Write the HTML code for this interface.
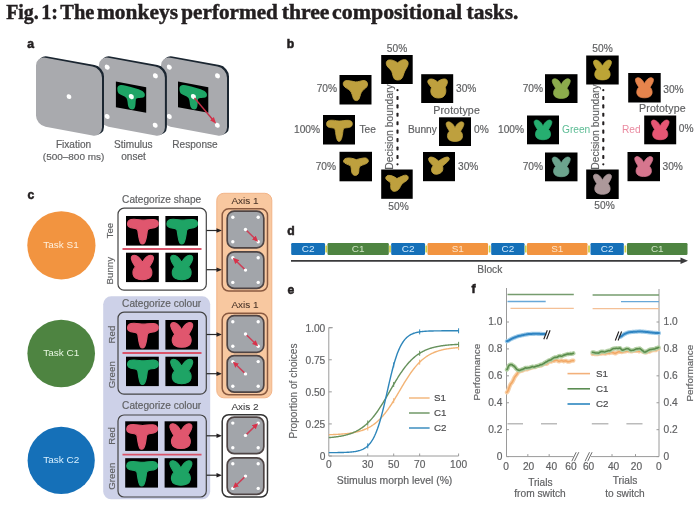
<!DOCTYPE html>
<html><head><meta charset="utf-8"><style>
html,body{margin:0;padding:0;background:#fff;width:700px;height:506px;overflow:hidden;font-family:"Liberation Sans",sans-serif}
svg{display:block;filter:blur(0.3px)}

</style></head><body>
<svg width="700" height="506" viewBox="0 0 700 506">
<defs>
<marker id="ah" viewBox="0 0 10 10" refX="8" refY="5" markerWidth="5" markerHeight="5" orient="auto"><path d="M0,1 L9,5 L0,9 Z" fill="#231f20"/></marker>
<marker id="ahr" viewBox="0 0 10 10" refX="6" refY="5" markerWidth="4" markerHeight="4" orient="auto"><path d="M0,0.5 L10,5 L0,9.5 Z" fill="#d8324a"/></marker>
</defs>
<rect width="700" height="506" fill="#fff"/>
<text x="6.2" y="19.2" font-size="20.6" font-weight="bold" font-family="Liberation Serif" fill="#231f20" stroke="#231f20" stroke-width="0.45" textLength="32.5" lengthAdjust="spacingAndGlyphs">Fig.</text>
<text x="41.2" y="19.2" font-size="20.6" font-weight="bold" font-family="Liberation Serif" fill="#231f20" stroke="#231f20" stroke-width="0.45" textLength="16.8" lengthAdjust="spacingAndGlyphs">1:</text>
<text x="60.3" y="19.2" font-size="20.6" font-weight="bold" font-family="Liberation Serif" fill="#231f20" stroke="#231f20" stroke-width="0.45" textLength="34.1" lengthAdjust="spacingAndGlyphs">The</text>
<text x="97" y="19.2" font-size="20.6" font-weight="bold" font-family="Liberation Serif" fill="#231f20" stroke="#231f20" stroke-width="0.45" textLength="81.0" lengthAdjust="spacingAndGlyphs">monkeys</text>
<text x="181.3" y="19.2" font-size="20.6" font-weight="bold" font-family="Liberation Serif" fill="#231f20" stroke="#231f20" stroke-width="0.45" textLength="96.6" lengthAdjust="spacingAndGlyphs">performed</text>
<text x="281.7" y="19.2" font-size="20.6" font-weight="bold" font-family="Liberation Serif" fill="#231f20" stroke="#231f20" stroke-width="0.45" textLength="47.8" lengthAdjust="spacingAndGlyphs">three</text>
<text x="332.1" y="19.2" font-size="20.6" font-weight="bold" font-family="Liberation Serif" fill="#231f20" stroke="#231f20" stroke-width="0.45" textLength="130.1" lengthAdjust="spacingAndGlyphs">compositional</text>
<text x="466.5" y="19.2" font-size="20.6" font-weight="bold" font-family="Liberation Serif" fill="#231f20" stroke="#231f20" stroke-width="0.45" textLength="51.9" lengthAdjust="spacingAndGlyphs">tasks.</text>
<text x="27.3" y="47.6" font-size="12.2" fill="#231f20" text-anchor="start" font-weight="bold" font-family="Liberation Sans" stroke="#231f20" stroke-width="0.55">a</text>
<text x="286.8" y="47.5" font-size="12.2" fill="#231f20" text-anchor="start" font-weight="bold" font-family="Liberation Sans" stroke="#231f20" stroke-width="0.55">b</text>
<text x="27.6" y="198.8" font-size="12.2" fill="#231f20" text-anchor="start" font-weight="bold" font-family="Liberation Sans" stroke="#231f20" stroke-width="0.55">c</text>
<text x="287.3" y="235" font-size="12.2" fill="#231f20" text-anchor="start" font-weight="bold" font-family="Liberation Sans" stroke="#231f20" stroke-width="0.55">d</text>
<text x="287.4" y="293.8" font-size="12.2" fill="#231f20" text-anchor="start" font-weight="bold" font-family="Liberation Sans" stroke="#231f20" stroke-width="0.55">e</text>
<text x="471.4" y="293" font-size="12.2" fill="#231f20" text-anchor="start" font-weight="bold" font-family="Liberation Sans" stroke="#231f20" stroke-width="0.55">f</text>
<g transform="translate(161,56) skewY(10.481)">
<rect x="2" y="-1.7" width="66" height="69.5" rx="9.5" fill="#1b2631"/>
<rect x="0" y="0" width="66" height="69" rx="9.5" fill="#a9aaae"/>
<circle cx="8.3" cy="9.6" r="2.5" fill="#fff"/>
<circle cx="56.5" cy="9.4" r="2.5" fill="#fff"/>
<circle cx="8.3" cy="59" r="2.5" fill="#fff"/>
<circle cx="56.3" cy="58.8" r="2.5" fill="#fff"/>
<g transform="translate(17,22.4)">
<rect x="0" y="0" width="30.3" height="25.6" fill="#000"/>
<path d="M1.5,7.5 C1.2,3 5,2 10,2.3 C15,2.6 22,3 26.5,4.5 C30,6 29.8,10.5 26,11.5 C23,12.3 21,12 20,14 C19.5,17 20,21 18.5,23.5 C17,25.5 13.5,25.5 12.5,23 C11.5,20 12,16.5 10.5,14.5 C8.5,12.5 4.5,13 2.8,11.5 C1.8,10.5 1.6,9 1.5,7.5 Z" fill="#1ea566"/>
</g>
<circle cx="32.4" cy="34.6" r="2.6" fill="#f4fff9"/>
<line x1="33.5" y1="35.8" x2="53.5" y2="55.8" stroke="#c43048" stroke-width="1.5" marker-end="url(#ahr)"/>
</g>
<g transform="translate(98.9,56) skewY(10.481)">
<rect x="2" y="-1.7" width="66" height="69.5" rx="9.5" fill="#1b2631"/>
<rect x="0" y="0" width="66" height="69" rx="9.5" fill="#a9aaae"/>
<circle cx="8.3" cy="9.6" r="2.5" fill="#fff"/>
<circle cx="56.5" cy="9.4" r="2.5" fill="#fff"/>
<circle cx="8.3" cy="59" r="2.5" fill="#fff"/>
<circle cx="56.3" cy="58.8" r="2.5" fill="#fff"/>
<g transform="translate(17,22.4)">
<rect x="0" y="0" width="30.3" height="25.6" fill="#000"/>
<path d="M1.5,7.5 C1.2,3 5,2 10,2.3 C15,2.6 22,3 26.5,4.5 C30,6 29.8,10.5 26,11.5 C23,12.3 21,12 20,14 C19.5,17 20,21 18.5,23.5 C17,25.5 13.5,25.5 12.5,23 C11.5,20 12,16.5 10.5,14.5 C8.5,12.5 4.5,13 2.8,11.5 C1.8,10.5 1.6,9 1.5,7.5 Z" fill="#1ea566"/>
</g>
<circle cx="32.4" cy="34.6" r="2.6" fill="#f4fff9"/>
</g>
<g transform="translate(36,56) skewY(10.481)">
<rect x="2" y="-1.7" width="66" height="69.5" rx="9.5" fill="#1b2631"/>
<rect x="0" y="0" width="66" height="69" rx="9.5" fill="#a9aaae"/>
<circle cx="33" cy="34.5" r="2.4" fill="#fff"/>
</g>
<text x="73.6" y="148.3" font-size="10.09" fill="#606163" text-anchor="middle" font-weight="normal" font-family="Liberation Sans" stroke="#606163" stroke-width="0.18">Fixation</text>
<text x="73.6" y="159.6" font-size="9.98" fill="#606163" text-anchor="middle" font-weight="normal" font-family="Liberation Sans" stroke="#606163" stroke-width="0.18">(500–800 ms)</text>
<text x="133.3" y="148.3" font-size="10.09" fill="#606163" text-anchor="middle" font-weight="normal" font-family="Liberation Sans" stroke="#606163" stroke-width="0.18">Stimulus</text>
<text x="133.5" y="159.6" font-size="10.09" fill="#606163" text-anchor="middle" font-weight="normal" font-family="Liberation Sans" stroke="#606163" stroke-width="0.18">onset</text>
<text x="195" y="148.3" font-size="10.09" fill="#606163" text-anchor="middle" font-weight="normal" font-family="Liberation Sans" stroke="#606163" stroke-width="0.18">Response</text>
<rect x="381.2" y="55" width="31.5" height="29" fill="#000"/>
<path d="M16.6,8.1 C14.5,6.3 11,4.6 7.8,5.2 C5,5.8 4.6,8.6 5.8,11 C7.2,13.5 9.8,14.8 10.8,17.2 C11.8,19.8 11.8,23 13.5,24.8 C15,26.2 18.5,26.3 20.3,24.8 C22.2,23.2 22.6,20 23.6,17.5 C24.6,15 26.8,12.5 27.3,9.8 C27.8,6.8 26.2,4.8 23.5,4.8 C20.8,4.8 18.6,6.5 16.6,8.1 Z" transform="translate(381.2,55) scale(0.9844,0.9667)" fill="#bea03e" stroke="#bea03e" stroke-width="0.9" stroke-linejoin="round"/>
<rect x="339.5" y="75" width="32" height="29.5" fill="#000"/>
<path d="M16,7 C13,6.6 9,5.2 6,5.8 C3.8,6.3 3.2,8.8 4.2,10.8 C5.5,13 8.5,14 10.5,15.8 C12.5,17.8 12.8,21.5 14,24.2 C15,26.5 18.5,26.8 19.6,24.2 C20.8,21.5 21,18 23,16 C24.8,14.2 27.2,13 27.9,10.8 C28.6,8.5 27.2,5.6 24.6,5.6 C21.6,5.6 19,7.2 16,7 Z" transform="translate(339.5,75) scale(1.0000,0.9833)" fill="#bea03e" stroke="#bea03e" stroke-width="0.9" stroke-linejoin="round"/>
<rect x="323" y="115" width="32" height="29.5" fill="#000"/>
<path d="M1.5,8 C1.5,4.2 4,3.2 8,3.3 C12,3.4 14,4.2 17,4.2 C20,4.2 23,3.3 27,3.5 C30.5,3.8 31.8,5.8 31.5,8.3 C31.2,11 28.5,12 25,12.3 C22.5,12.5 21.2,12.8 20.8,15 C20.3,18.5 20,24 18,27.3 C17,28.7 15,28.7 14.2,27.3 C12.5,24 12.2,18.5 11.6,15 C11.2,12.8 9.8,12.5 7.5,12.3 C4,12 1.5,11 1.5,8 Z" transform="translate(323,115) scale(1.0000,0.9833) translate(16,15.6) scale(0.86) translate(-16,-15.3)" fill="#bea03e" stroke="#bea03e" stroke-width="0.9" stroke-linejoin="round"/>
<rect x="339.5" y="151.8" width="32.5" height="29.5" fill="#000"/>
<path d="M16.5,8 C14,7 10.5,5.8 7,6.5 C4.5,7 3.5,9 4.2,10.5 C5,12 8,12.8 10.5,14 C11.8,15 11.5,18 12,20.5 C12.5,23 14,24 15.5,24 C17.5,24 18.8,22.5 19,20 C19.2,17.5 19,15.5 20.5,14.5 C23,13 27,12.5 28.2,10.5 C29,8.5 27.5,6 24.5,6.2 C21.5,6.5 19,7.2 16.5,8 Z" transform="translate(339.5,151.8) scale(1.0156,0.9833)" fill="#bea03e" stroke="#bea03e" stroke-width="0.9" stroke-linejoin="round"/>
<rect x="381.2" y="169.5" width="31.5" height="29.3" fill="#000"/>
<path d="M16,9.3 C13.5,7.5 10.5,5.8 7.5,6 C5,6.3 4,8.5 5,10 C6,11.5 8,12 9.5,13.5 C10,15.5 9.2,18 10,20 C10.8,22 12.5,22.5 14,22.3 C16.5,22 18.5,20 19.5,17.5 C20.5,15 22.5,13.5 25,12 C27,10.8 28,9 27.2,7.2 C26.5,5.5 24,5.5 22,6.5 C19.5,7.5 17.5,8.5 16,9.3 Z" transform="translate(381.2,169.5) scale(0.9844,0.9767)" fill="#bea03e" stroke="#bea03e" stroke-width="0.9" stroke-linejoin="round"/>
<rect x="421.2" y="74.2" width="32" height="28.8" fill="#000"/>
<path d="M16.3,8 C14.5,6.5 12.5,5 10,5 C7.5,5 6,6.5 6.8,9 C7.5,11 9.5,12.5 10.3,14 C9.5,16 9.3,18.5 10.3,21 C11.5,23.5 14,24.8 17.3,24.8 C21,24.8 23.5,23 24.3,20 C25,17.5 24.5,15 24,13.5 C25,12 26.3,10 26.2,7.8 C26,5.5 24.5,4.8 22.5,5 C20,5.3 18,6.5 16.3,8 Z" transform="translate(421.2,74.2) scale(1.0000,0.9600)" fill="#bea03e" stroke="#bea03e" stroke-width="0.9" stroke-linejoin="round"/>
<rect x="439" y="117.3" width="32" height="28.7" fill="#000"/>
<path d="M16,10 C14.8,7.5 13,4.2 10,3 C7,1.8 4.8,3.2 5.2,6 C5.6,9 7.8,12 9.2,14.5 C7.2,16.5 6.4,19.5 6.9,22.2 C7.7,26 11.5,27.6 16,27.6 C20.5,27.6 24.3,26 25.1,22.2 C25.6,19.5 24.8,16.5 22.8,14.5 C24.2,12 26.4,9 26.8,6 C27.2,3.2 25,1.8 22,3 C19,4.2 17.2,7.5 16,10 Z" transform="translate(439,117.3) scale(1.0000,0.9567) translate(16,14.6) scale(0.82) translate(-16,-14.6)" fill="#bea03e" stroke="#bea03e" stroke-width="0.9" stroke-linejoin="round"/>
<rect x="423" y="152" width="32" height="29.2" fill="#000"/>
<path d="M15.6,9.3 C13.5,7.5 11,5.2 8,5.2 C5.8,5.2 5,7 6,9 C7,11 9,13 10.2,14.2 C8.5,16 8,18.5 9,20.5 C10,22.5 12,23 14,22.8 C17,22.5 19.5,20.5 19.8,18 C20,16.5 19.8,15.5 19.5,14.5 C21.5,12.5 24.5,10.5 25.8,8.5 C27,6.5 25.8,5 24,5.2 C21,5.5 18,7.5 15.6,9.3 Z" transform="translate(423,152) scale(1.0000,0.9733)" fill="#bea03e" stroke="#bea03e" stroke-width="0.9" stroke-linejoin="round"/>
<text x="397" y="52.0" font-size="10.19" fill="#606163" text-anchor="middle" font-weight="normal" font-family="Liberation Sans" stroke="#606163" stroke-width="0.18">50%</text>
<text x="337" y="91.5" font-size="10.19" fill="#606163" text-anchor="end" font-weight="normal" font-family="Liberation Sans" stroke="#606163" stroke-width="0.18">70%</text>
<text x="320" y="132.5" font-size="10.19" fill="#606163" text-anchor="end" font-weight="normal" font-family="Liberation Sans" stroke="#606163" stroke-width="0.18">100%</text>
<text x="359.5" y="132.5" font-size="10.19" fill="#606163" text-anchor="start" font-weight="normal" font-family="Liberation Sans" stroke="#606163" stroke-width="0.18">Tee</text>
<text x="336" y="169.5" font-size="10.19" fill="#606163" text-anchor="end" font-weight="normal" font-family="Liberation Sans" stroke="#606163" stroke-width="0.18">70%</text>
<text x="398.5" y="209.5" font-size="10.19" fill="#606163" text-anchor="middle" font-weight="normal" font-family="Liberation Sans" stroke="#606163" stroke-width="0.18">50%</text>
<text x="456" y="92.0" font-size="10.19" fill="#606163" text-anchor="start" font-weight="normal" font-family="Liberation Sans" stroke="#606163" stroke-width="0.18">30%</text>
<text x="433.2" y="114.0" font-size="10.61" fill="#606163" text-anchor="start" font-weight="normal" font-family="Liberation Sans" letter-spacing="0.15" stroke="#606163" stroke-width="0.18">Prototype</text>
<text x="408" y="133.0" font-size="10.19" fill="#606163" text-anchor="start" font-weight="normal" font-family="Liberation Sans" stroke="#606163" stroke-width="0.18">Bunny</text>
<text x="474" y="133.0" font-size="10.19" fill="#606163" text-anchor="start" font-weight="normal" font-family="Liberation Sans" stroke="#606163" stroke-width="0.18">0%</text>
<text x="458" y="169.5" font-size="10.19" fill="#606163" text-anchor="start" font-weight="normal" font-family="Liberation Sans" stroke="#606163" stroke-width="0.18">30%</text>
<circle cx="397.5" cy="90.2" r="1.1" fill="#231f20"/>
<circle cx="397.5" cy="164.3" r="1.1" fill="#231f20"/>
<rect x="396.45" y="95.90" width="2.1" height="4.1" rx="0.8" fill="#231f20"/>
<rect x="396.45" y="104.33" width="2.1" height="4.1" rx="0.8" fill="#231f20"/>
<rect x="396.45" y="112.76" width="2.1" height="4.1" rx="0.8" fill="#231f20"/>
<rect x="396.45" y="121.19" width="2.1" height="4.1" rx="0.8" fill="#231f20"/>
<rect x="396.45" y="129.62" width="2.1" height="4.1" rx="0.8" fill="#231f20"/>
<rect x="396.45" y="138.05" width="2.1" height="4.1" rx="0.8" fill="#231f20"/>
<rect x="396.45" y="146.48" width="2.1" height="4.1" rx="0.8" fill="#231f20"/>
<rect x="396.45" y="154.91" width="2.1" height="4.1" rx="0.8" fill="#231f20"/>
<text transform="translate(389.2,127) rotate(-90)" x="0" y="3.71" font-size="10.3" fill="#606163" stroke="#606163" stroke-width="0.15" text-anchor="middle" font-family="Liberation Sans">Decision boundary</text>
<circle cx="603.3" cy="90.2" r="1.1" fill="#231f20"/>
<circle cx="603.3" cy="164.3" r="1.1" fill="#231f20"/>
<rect x="602.25" y="95.90" width="2.1" height="4.1" rx="0.8" fill="#231f20"/>
<rect x="602.25" y="104.33" width="2.1" height="4.1" rx="0.8" fill="#231f20"/>
<rect x="602.25" y="112.76" width="2.1" height="4.1" rx="0.8" fill="#231f20"/>
<rect x="602.25" y="121.19" width="2.1" height="4.1" rx="0.8" fill="#231f20"/>
<rect x="602.25" y="129.62" width="2.1" height="4.1" rx="0.8" fill="#231f20"/>
<rect x="602.25" y="138.05" width="2.1" height="4.1" rx="0.8" fill="#231f20"/>
<rect x="602.25" y="146.48" width="2.1" height="4.1" rx="0.8" fill="#231f20"/>
<rect x="602.25" y="154.91" width="2.1" height="4.1" rx="0.8" fill="#231f20"/>
<text transform="translate(595.7,127) rotate(-90)" x="0" y="3.71" font-size="10.3" fill="#606163" stroke="#606163" stroke-width="0.15" text-anchor="middle" font-family="Liberation Sans">Decision boundary</text>
<rect x="586.2" y="55.5" width="32.5" height="29" fill="#000"/>
<path d="M16,10 C14.8,7.5 13,4.2 10,3 C7,1.8 4.8,3.2 5.2,6 C5.6,9 7.8,12 9.2,14.5 C7.2,16.5 6.4,19.5 6.9,22.2 C7.7,26 11.5,27.6 16,27.6 C20.5,27.6 24.3,26 25.1,22.2 C25.6,19.5 24.8,16.5 22.8,14.5 C24.2,12 26.4,9 26.8,6 C27.2,3.2 25,1.8 22,3 C19,4.2 17.2,7.5 16,10 Z" transform="translate(586.2,55.5) scale(1.0156,0.9667) translate(16,14.6) scale(0.82) translate(-16,-14.6)" fill="#bca436" stroke="#bca436" stroke-width="0.9" stroke-linejoin="round"/>
<rect x="545" y="74.2" width="32.5" height="28.8" fill="#000"/>
<path d="M16,10 C14.8,7.5 13,4.2 10,3 C7,1.8 4.8,3.2 5.2,6 C5.6,9 7.8,12 9.2,14.5 C7.2,16.5 6.4,19.5 6.9,22.2 C7.7,26 11.5,27.6 16,27.6 C20.5,27.6 24.3,26 25.1,22.2 C25.6,19.5 24.8,16.5 22.8,14.5 C24.2,12 26.4,9 26.8,6 C27.2,3.2 25,1.8 22,3 C19,4.2 17.2,7.5 16,10 Z" transform="translate(545,74.2) scale(1.0156,0.9600) translate(16,14.6) scale(0.82) translate(-16,-14.6)" fill="#8cac4c" stroke="#8cac4c" stroke-width="0.9" stroke-linejoin="round"/>
<rect x="527" y="115.5" width="32" height="28.8" fill="#000"/>
<path d="M16,10 C14.8,7.5 13,4.2 10,3 C7,1.8 4.8,3.2 5.2,6 C5.6,9 7.8,12 9.2,14.5 C7.2,16.5 6.4,19.5 6.9,22.2 C7.7,26 11.5,27.6 16,27.6 C20.5,27.6 24.3,26 25.1,22.2 C25.6,19.5 24.8,16.5 22.8,14.5 C24.2,12 26.4,9 26.8,6 C27.2,3.2 25,1.8 22,3 C19,4.2 17.2,7.5 16,10 Z" transform="translate(527,115.5) scale(1.0000,0.9600) translate(16,14.6) scale(0.82) translate(-16,-14.6)" fill="#26ae70" stroke="#26ae70" stroke-width="0.9" stroke-linejoin="round"/>
<rect x="545" y="152.5" width="32.5" height="28.8" fill="#000"/>
<path d="M16,10 C14.8,7.5 13,4.2 10,3 C7,1.8 4.8,3.2 5.2,6 C5.6,9 7.8,12 9.2,14.5 C7.2,16.5 6.4,19.5 6.9,22.2 C7.7,26 11.5,27.6 16,27.6 C20.5,27.6 24.3,26 25.1,22.2 C25.6,19.5 24.8,16.5 22.8,14.5 C24.2,12 26.4,9 26.8,6 C27.2,3.2 25,1.8 22,3 C19,4.2 17.2,7.5 16,10 Z" transform="translate(545,152.5) scale(1.0156,0.9600) translate(16,14.6) scale(0.82) translate(-16,-14.6)" fill="#6ca48e" stroke="#6ca48e" stroke-width="0.9" stroke-linejoin="round"/>
<rect x="586.2" y="169.5" width="32.5" height="29.5" fill="#000"/>
<path d="M16,10 C14.8,7.5 13,4.2 10,3 C7,1.8 4.8,3.2 5.2,6 C5.6,9 7.8,12 9.2,14.5 C7.2,16.5 6.4,19.5 6.9,22.2 C7.7,26 11.5,27.6 16,27.6 C20.5,27.6 24.3,26 25.1,22.2 C25.6,19.5 24.8,16.5 22.8,14.5 C24.2,12 26.4,9 26.8,6 C27.2,3.2 25,1.8 22,3 C19,4.2 17.2,7.5 16,10 Z" transform="translate(586.2,169.5) scale(1.0156,0.9833) translate(16,14.6) scale(0.82) translate(-16,-14.6)" fill="#ac989a" stroke="#ac989a" stroke-width="0.9" stroke-linejoin="round"/>
<rect x="628.2" y="73" width="32.5" height="29.5" fill="#000"/>
<path d="M16,10 C14.8,7.5 13,4.2 10,3 C7,1.8 4.8,3.2 5.2,6 C5.6,9 7.8,12 9.2,14.5 C7.2,16.5 6.4,19.5 6.9,22.2 C7.7,26 11.5,27.6 16,27.6 C20.5,27.6 24.3,26 25.1,22.2 C25.6,19.5 24.8,16.5 22.8,14.5 C24.2,12 26.4,9 26.8,6 C27.2,3.2 25,1.8 22,3 C19,4.2 17.2,7.5 16,10 Z" transform="translate(628.2,73) scale(1.0156,0.9833) translate(16,14.6) scale(0.82) translate(-16,-14.6)" fill="#e6844c" stroke="#e6844c" stroke-width="0.9" stroke-linejoin="round"/>
<rect x="644.2" y="115.5" width="32" height="28.8" fill="#000"/>
<path d="M16,10 C14.8,7.5 13,4.2 10,3 C7,1.8 4.8,3.2 5.2,6 C5.6,9 7.8,12 9.2,14.5 C7.2,16.5 6.4,19.5 6.9,22.2 C7.7,26 11.5,27.6 16,27.6 C20.5,27.6 24.3,26 25.1,22.2 C25.6,19.5 24.8,16.5 22.8,14.5 C24.2,12 26.4,9 26.8,6 C27.2,3.2 25,1.8 22,3 C19,4.2 17.2,7.5 16,10 Z" transform="translate(644.2,115.5) scale(1.0000,0.9600) translate(16,14.6) scale(0.82) translate(-16,-14.6)" fill="#e65674" stroke="#e65674" stroke-width="0.9" stroke-linejoin="round"/>
<rect x="627.5" y="152" width="32.5" height="29.2" fill="#000"/>
<path d="M16,10 C14.8,7.5 13,4.2 10,3 C7,1.8 4.8,3.2 5.2,6 C5.6,9 7.8,12 9.2,14.5 C7.2,16.5 6.4,19.5 6.9,22.2 C7.7,26 11.5,27.6 16,27.6 C20.5,27.6 24.3,26 25.1,22.2 C25.6,19.5 24.8,16.5 22.8,14.5 C24.2,12 26.4,9 26.8,6 C27.2,3.2 25,1.8 22,3 C19,4.2 17.2,7.5 16,10 Z" transform="translate(627.5,152) scale(1.0156,0.9733) translate(16,14.6) scale(0.82) translate(-16,-14.6)" fill="#d6768e" stroke="#d6768e" stroke-width="0.9" stroke-linejoin="round"/>
<text x="602.5" y="51.5" font-size="10.19" fill="#606163" text-anchor="middle" font-weight="normal" font-family="Liberation Sans" stroke="#606163" stroke-width="0.18">50%</text>
<text x="543" y="92.0" font-size="10.19" fill="#606163" text-anchor="end" font-weight="normal" font-family="Liberation Sans" stroke="#606163" stroke-width="0.18">70%</text>
<text x="524" y="132.5" font-size="10.19" fill="#606163" text-anchor="end" font-weight="normal" font-family="Liberation Sans" stroke="#606163" stroke-width="0.18">100%</text>
<text x="562" y="132.5" font-size="10.19" fill="#5cbc94" text-anchor="start" font-weight="normal" font-family="Liberation Sans"  >Green</text>
<text x="622" y="132.5" font-size="10.19" fill="#ea8aa0" text-anchor="start" font-weight="normal" font-family="Liberation Sans"  >Red</text>
<text x="639" y="112.0" font-size="10.61" fill="#606163" text-anchor="start" font-weight="normal" font-family="Liberation Sans" letter-spacing="0.15" stroke="#606163" stroke-width="0.18">Prototype</text>
<text x="678.8" y="132.0" font-size="10.19" fill="#606163" text-anchor="start" font-weight="normal" font-family="Liberation Sans" stroke="#606163" stroke-width="0.18">0%</text>
<text x="663.3" y="93.2" font-size="10.19" fill="#606163" text-anchor="start" font-weight="normal" font-family="Liberation Sans" stroke="#606163" stroke-width="0.18">30%</text>
<text x="662.5" y="169.5" font-size="10.19" fill="#606163" text-anchor="start" font-weight="normal" font-family="Liberation Sans" stroke="#606163" stroke-width="0.18">30%</text>
<text x="604.5" y="208.5" font-size="10.19" fill="#606163" text-anchor="middle" font-weight="normal" font-family="Liberation Sans" stroke="#606163" stroke-width="0.18">50%</text>
<text x="543" y="169.5" font-size="10.19" fill="#606163" text-anchor="end" font-weight="normal" font-family="Liberation Sans" stroke="#606163" stroke-width="0.18">70%</text>
<circle cx="61.4" cy="245.3" r="34.1" fill="#f29440"/>
<circle cx="61.2" cy="353.5" r="33.8" fill="#4e8441"/>
<circle cx="61.2" cy="460.4" r="33.6" fill="#1570b8"/>
<text x="61" y="248.3" font-size="9.98" fill="#fff0dc" text-anchor="middle" font-weight="normal" font-family="Liberation Sans"  >Task S1</text>
<text x="61.2" y="356.0" font-size="9.98" fill="#e6f6e0" text-anchor="middle" font-weight="normal" font-family="Liberation Sans"  >Task C1</text>
<text x="61.2" y="463.3" font-size="9.98" fill="#d8f0ff" text-anchor="middle" font-weight="normal" font-family="Liberation Sans"  >Task C2</text>
<rect x="103.2" y="296.3" width="107" height="203" rx="8" fill="#cdd1e8"/>
<rect x="216.8" y="193.3" width="55" height="204.5" rx="7" fill="#f8c8a0" stroke="#f3b488" stroke-width="1"/>
<text x="122.1" y="202.5" font-size="10.11" fill="#606163" text-anchor="start" font-weight="normal" font-family="Liberation Sans" stroke="#606163" stroke-width="0.18">Categorize shape</text>
<rect x="118" y="208.2" width="88.3" height="82" rx="6" fill="#fff" stroke="#444" stroke-width="1.2"/>
<rect x="126" y="216.0" width="32.8" height="29.6" fill="#000"/>
<path d="M1.5,8 C1.5,4.2 4,3.2 8,3.3 C12,3.4 14,4.2 17,4.2 C20,4.2 23,3.3 27,3.5 C30.5,3.8 31.8,5.8 31.5,8.3 C31.2,11 28.5,12 25,12.3 C22.5,12.5 21.2,12.8 20.8,15 C20.3,18.5 20,24 18,27.3 C17,28.7 15,28.7 14.2,27.3 C12.5,24 12.2,18.5 11.6,15 C11.2,12.8 9.8,12.5 7.5,12.3 C4,12 1.5,11 1.5,8 Z" transform="translate(126,216.0) scale(1.0250,0.9867)" fill="#e0566e" stroke="#e0566e" stroke-width="1.1" stroke-linejoin="round"/>
<rect x="165.4" y="216.0" width="32.6" height="29.6" fill="#000"/>
<path d="M1.5,8 C1.5,4.2 4,3.2 8,3.3 C12,3.4 14,4.2 17,4.2 C20,4.2 23,3.3 27,3.5 C30.5,3.8 31.8,5.8 31.5,8.3 C31.2,11 28.5,12 25,12.3 C22.5,12.5 21.2,12.8 20.8,15 C20.3,18.5 20,24 18,27.3 C17,28.7 15,28.7 14.2,27.3 C12.5,24 12.2,18.5 11.6,15 C11.2,12.8 9.8,12.5 7.5,12.3 C4,12 1.5,11 1.5,8 Z" transform="translate(165.4,216.0) scale(1.0188,0.9867)" fill="#1ea465" stroke="#1ea465" stroke-width="1.1" stroke-linejoin="round"/>
<rect x="126" y="252.7" width="32.8" height="29.4" fill="#000"/>
<path d="M16,10 C14.8,7.5 13,4.2 10,3 C7,1.8 4.8,3.2 5.2,6 C5.6,9 7.8,12 9.2,14.5 C7.2,16.5 6.4,19.5 6.9,22.2 C7.7,26 11.5,27.6 16,27.6 C20.5,27.6 24.3,26 25.1,22.2 C25.6,19.5 24.8,16.5 22.8,14.5 C24.2,12 26.4,9 26.8,6 C27.2,3.2 25,1.8 22,3 C19,4.2 17.2,7.5 16,10 Z" transform="translate(126,252.7) scale(1.0250,0.9800)" fill="#e0566e" stroke="#e0566e" stroke-width="1.1" stroke-linejoin="round"/>
<rect x="165.4" y="252.7" width="32.6" height="29.4" fill="#000"/>
<path d="M16,10 C14.8,7.5 13,4.2 10,3 C7,1.8 4.8,3.2 5.2,6 C5.6,9 7.8,12 9.2,14.5 C7.2,16.5 6.4,19.5 6.9,22.2 C7.7,26 11.5,27.6 16,27.6 C20.5,27.6 24.3,26 25.1,22.2 C25.6,19.5 24.8,16.5 22.8,14.5 C24.2,12 26.4,9 26.8,6 C27.2,3.2 25,1.8 22,3 C19,4.2 17.2,7.5 16,10 Z" transform="translate(165.4,252.7) scale(1.0188,0.9800)" fill="#1ea465" stroke="#1ea465" stroke-width="1.1" stroke-linejoin="round"/>
<line x1="122.5" y1="249.0" x2="201.5" y2="249.0" stroke="#d9546a" stroke-width="1.8"/>
<text transform="translate(109.9,230.6) rotate(-90)" x="0" y="3.50" font-size="9.72" fill="#606163" stroke="#606163" stroke-width="0.15" text-anchor="middle" font-family="Liberation Sans">Tee</text>
<text transform="translate(109.9,270.7) rotate(-90)" x="0" y="3.50" font-size="9.72" fill="#606163" stroke="#606163" stroke-width="0.15" text-anchor="middle" font-family="Liberation Sans">Bunny</text>
<line x1="206.5" y1="230.5" x2="218" y2="230.5" stroke="#2a2a2a" stroke-width="1.2"/>
<path d="M216.5,228.2 L222,230.5 L216.5,232.8 Z" fill="#231f20"/>
<line x1="206.5" y1="269.7" x2="218" y2="269.7" stroke="#2a2a2a" stroke-width="1.2"/>
<path d="M216.5,267.4 L222,269.7 L216.5,272.0 Z" fill="#231f20"/>
<text x="122.1" y="306.5" font-size="10.11" fill="#606163" text-anchor="start" font-weight="normal" font-family="Liberation Sans" stroke="#606163" stroke-width="0.18">Categorize colour</text>
<rect x="118" y="312.2" width="88.3" height="82" rx="6" fill="none" stroke="#444" stroke-width="1.2"/>
<rect x="126" y="320.0" width="32.8" height="29.6" fill="#000"/>
<path d="M1.5,8 C1.5,4.2 4,3.2 8,3.3 C12,3.4 14,4.2 17,4.2 C20,4.2 23,3.3 27,3.5 C30.5,3.8 31.8,5.8 31.5,8.3 C31.2,11 28.5,12 25,12.3 C22.5,12.5 21.2,12.8 20.8,15 C20.3,18.5 20,24 18,27.3 C17,28.7 15,28.7 14.2,27.3 C12.5,24 12.2,18.5 11.6,15 C11.2,12.8 9.8,12.5 7.5,12.3 C4,12 1.5,11 1.5,8 Z" transform="translate(126,320.0) scale(1.0250,0.9867)" fill="#e0566e" stroke="#e0566e" stroke-width="1.1" stroke-linejoin="round"/>
<rect x="165.4" y="320.0" width="32.6" height="29.6" fill="#000"/>
<path d="M16,10 C14.8,7.5 13,4.2 10,3 C7,1.8 4.8,3.2 5.2,6 C5.6,9 7.8,12 9.2,14.5 C7.2,16.5 6.4,19.5 6.9,22.2 C7.7,26 11.5,27.6 16,27.6 C20.5,27.6 24.3,26 25.1,22.2 C25.6,19.5 24.8,16.5 22.8,14.5 C24.2,12 26.4,9 26.8,6 C27.2,3.2 25,1.8 22,3 C19,4.2 17.2,7.5 16,10 Z" transform="translate(165.4,320.0) scale(1.0188,0.9867)" fill="#e0566e" stroke="#e0566e" stroke-width="1.1" stroke-linejoin="round"/>
<rect x="126" y="356.7" width="32.8" height="29.4" fill="#000"/>
<path d="M1.5,8 C1.5,4.2 4,3.2 8,3.3 C12,3.4 14,4.2 17,4.2 C20,4.2 23,3.3 27,3.5 C30.5,3.8 31.8,5.8 31.5,8.3 C31.2,11 28.5,12 25,12.3 C22.5,12.5 21.2,12.8 20.8,15 C20.3,18.5 20,24 18,27.3 C17,28.7 15,28.7 14.2,27.3 C12.5,24 12.2,18.5 11.6,15 C11.2,12.8 9.8,12.5 7.5,12.3 C4,12 1.5,11 1.5,8 Z" transform="translate(126,356.7) scale(1.0250,0.9800)" fill="#1ea465" stroke="#1ea465" stroke-width="1.1" stroke-linejoin="round"/>
<rect x="165.4" y="356.7" width="32.6" height="29.4" fill="#000"/>
<path d="M16,10 C14.8,7.5 13,4.2 10,3 C7,1.8 4.8,3.2 5.2,6 C5.6,9 7.8,12 9.2,14.5 C7.2,16.5 6.4,19.5 6.9,22.2 C7.7,26 11.5,27.6 16,27.6 C20.5,27.6 24.3,26 25.1,22.2 C25.6,19.5 24.8,16.5 22.8,14.5 C24.2,12 26.4,9 26.8,6 C27.2,3.2 25,1.8 22,3 C19,4.2 17.2,7.5 16,10 Z" transform="translate(165.4,356.7) scale(1.0188,0.9800)" fill="#1ea465" stroke="#1ea465" stroke-width="1.1" stroke-linejoin="round"/>
<line x1="122.5" y1="353.0" x2="201.5" y2="353.0" stroke="#d9546a" stroke-width="1.8"/>
<text transform="translate(111.4,334.6) rotate(-90)" x="0" y="3.50" font-size="9.72" fill="#606163" stroke="#606163" stroke-width="0.15" text-anchor="middle" font-family="Liberation Sans">Red</text>
<text transform="translate(111.4,374.7) rotate(-90)" x="0" y="3.50" font-size="9.72" fill="#606163" stroke="#606163" stroke-width="0.15" text-anchor="middle" font-family="Liberation Sans">Green</text>
<line x1="206.5" y1="334.5" x2="218" y2="334.5" stroke="#2a2a2a" stroke-width="1.2"/>
<path d="M216.5,332.2 L222,334.5 L216.5,336.8 Z" fill="#231f20"/>
<line x1="206.5" y1="373.7" x2="218" y2="373.7" stroke="#2a2a2a" stroke-width="1.2"/>
<path d="M216.5,371.4 L222,373.7 L216.5,376.0 Z" fill="#231f20"/>
<text x="122.1" y="409.3" font-size="10.11" fill="#606163" text-anchor="start" font-weight="normal" font-family="Liberation Sans" stroke="#606163" stroke-width="0.18">Categorize colour</text>
<rect x="118" y="415" width="88.3" height="82" rx="6" fill="none" stroke="#444" stroke-width="1.2"/>
<rect x="125.2" y="421.3" width="32.8" height="29.6" fill="#000"/>
<path d="M1.5,8 C1.5,4.2 4,3.2 8,3.3 C12,3.4 14,4.2 17,4.2 C20,4.2 23,3.3 27,3.5 C30.5,3.8 31.8,5.8 31.5,8.3 C31.2,11 28.5,12 25,12.3 C22.5,12.5 21.2,12.8 20.8,15 C20.3,18.5 20,24 18,27.3 C17,28.7 15,28.7 14.2,27.3 C12.5,24 12.2,18.5 11.6,15 C11.2,12.8 9.8,12.5 7.5,12.3 C4,12 1.5,11 1.5,8 Z" transform="translate(125.2,421.3) scale(1.0250,0.9867)" fill="#e0566e" stroke="#e0566e" stroke-width="1.1" stroke-linejoin="round"/>
<rect x="164.6" y="421.3" width="32.6" height="29.6" fill="#000"/>
<path d="M16,10 C14.8,7.5 13,4.2 10,3 C7,1.8 4.8,3.2 5.2,6 C5.6,9 7.8,12 9.2,14.5 C7.2,16.5 6.4,19.5 6.9,22.2 C7.7,26 11.5,27.6 16,27.6 C20.5,27.6 24.3,26 25.1,22.2 C25.6,19.5 24.8,16.5 22.8,14.5 C24.2,12 26.4,9 26.8,6 C27.2,3.2 25,1.8 22,3 C19,4.2 17.2,7.5 16,10 Z" transform="translate(164.6,421.3) scale(1.0188,0.9867)" fill="#e0566e" stroke="#e0566e" stroke-width="1.1" stroke-linejoin="round"/>
<rect x="125.2" y="458.2" width="32.8" height="29.4" fill="#000"/>
<path d="M1.5,8 C1.5,4.2 4,3.2 8,3.3 C12,3.4 14,4.2 17,4.2 C20,4.2 23,3.3 27,3.5 C30.5,3.8 31.8,5.8 31.5,8.3 C31.2,11 28.5,12 25,12.3 C22.5,12.5 21.2,12.8 20.8,15 C20.3,18.5 20,24 18,27.3 C17,28.7 15,28.7 14.2,27.3 C12.5,24 12.2,18.5 11.6,15 C11.2,12.8 9.8,12.5 7.5,12.3 C4,12 1.5,11 1.5,8 Z" transform="translate(125.2,458.2) scale(1.0250,0.9800)" fill="#1ea465" stroke="#1ea465" stroke-width="1.1" stroke-linejoin="round"/>
<rect x="164.6" y="458.2" width="32.6" height="29.4" fill="#000"/>
<path d="M16,10 C14.8,7.5 13,4.2 10,3 C7,1.8 4.8,3.2 5.2,6 C5.6,9 7.8,12 9.2,14.5 C7.2,16.5 6.4,19.5 6.9,22.2 C7.7,26 11.5,27.6 16,27.6 C20.5,27.6 24.3,26 25.1,22.2 C25.6,19.5 24.8,16.5 22.8,14.5 C24.2,12 26.4,9 26.8,6 C27.2,3.2 25,1.8 22,3 C19,4.2 17.2,7.5 16,10 Z" transform="translate(164.6,458.2) scale(1.0188,0.9800)" fill="#1ea465" stroke="#1ea465" stroke-width="1.1" stroke-linejoin="round"/>
<line x1="122.5" y1="454.6" x2="201.5" y2="454.6" stroke="#d9546a" stroke-width="1.8"/>
<text transform="translate(111.4,435.90000000000003) rotate(-90)" x="0" y="3.50" font-size="9.72" fill="#606163" stroke="#606163" stroke-width="0.15" text-anchor="middle" font-family="Liberation Sans">Red</text>
<text transform="translate(111.4,476.2) rotate(-90)" x="0" y="3.50" font-size="9.72" fill="#606163" stroke="#606163" stroke-width="0.15" text-anchor="middle" font-family="Liberation Sans">Green</text>
<line x1="206.5" y1="435.8" x2="218" y2="435.8" stroke="#2a2a2a" stroke-width="1.2"/>
<path d="M216.5,433.5 L222,435.8 L216.5,438.1 Z" fill="#231f20"/>
<line x1="206.5" y1="475.2" x2="218" y2="475.2" stroke="#2a2a2a" stroke-width="1.2"/>
<path d="M216.5,472.9 L222,475.2 L216.5,477.5 Z" fill="#231f20"/>
<text x="245" y="204.1" font-size="9.98" fill="#4a3428" text-anchor="middle" font-weight="normal" font-family="Liberation Sans" stroke="#4a3428" stroke-width="0.08">Axis 1</text>
<rect x="222.2" y="208.8" width="45.3" height="82.2" rx="6.5" fill="none" stroke="#8a5a40" stroke-width="1.5"/>
<rect x="227.2" y="211.20000000000002" width="36.6" height="36.6" rx="7" fill="#a2a5aa" stroke="#4e4444" stroke-width="1.7"/>
<circle cx="232.79999999999998" cy="217.20000000000002" r="1.7" fill="#fff"/>
<circle cx="258.2" cy="217.20000000000002" r="1.7" fill="#fff"/>
<circle cx="232.79999999999998" cy="241.8" r="1.7" fill="#fff"/>
<circle cx="258.2" cy="241.8" r="1.7" fill="#fff"/>
<line x1="245.5" y1="229.50000000000003" x2="256.422" y2="240.07800000000003" stroke="#cc4058" stroke-width="1.5" marker-end="url(#ahr)"/>
<circle cx="245.5" cy="229.50000000000003" r="1.7" fill="#fff"/>
<rect x="227.2" y="251.8" width="36.6" height="36.6" rx="7" fill="#a2a5aa" stroke="#4e4444" stroke-width="1.7"/>
<circle cx="232.79999999999998" cy="257.8" r="1.7" fill="#fff"/>
<circle cx="258.2" cy="257.8" r="1.7" fill="#fff"/>
<circle cx="232.79999999999998" cy="282.40000000000003" r="1.7" fill="#fff"/>
<circle cx="258.2" cy="282.40000000000003" r="1.7" fill="#fff"/>
<line x1="245.5" y1="270.1" x2="234.578" y2="259.52200000000005" stroke="#cc4058" stroke-width="1.5" marker-end="url(#ahr)"/>
<circle cx="245.5" cy="270.1" r="1.7" fill="#fff"/>
<text x="245" y="307.6" font-size="9.98" fill="#4a3428" text-anchor="middle" font-weight="normal" font-family="Liberation Sans" stroke="#4a3428" stroke-width="0.08">Axis 1</text>
<rect x="222.2" y="313.3" width="45.3" height="81.5" rx="6.5" fill="none" stroke="#8a5a40" stroke-width="1.5"/>
<rect x="227.2" y="315.7" width="36.6" height="36.6" rx="7" fill="#a2a5aa" stroke="#4e4444" stroke-width="1.7"/>
<circle cx="232.79999999999998" cy="321.7" r="1.7" fill="#fff"/>
<circle cx="258.2" cy="321.7" r="1.7" fill="#fff"/>
<circle cx="232.79999999999998" cy="346.3" r="1.7" fill="#fff"/>
<circle cx="258.2" cy="346.3" r="1.7" fill="#fff"/>
<line x1="245.5" y1="334.0" x2="256.422" y2="344.578" stroke="#cc4058" stroke-width="1.5" marker-end="url(#ahr)"/>
<circle cx="245.5" cy="334.0" r="1.7" fill="#fff"/>
<rect x="227.2" y="355.6" width="36.6" height="36.6" rx="7" fill="#a2a5aa" stroke="#4e4444" stroke-width="1.7"/>
<circle cx="232.79999999999998" cy="361.6" r="1.7" fill="#fff"/>
<circle cx="258.2" cy="361.6" r="1.7" fill="#fff"/>
<circle cx="232.79999999999998" cy="386.20000000000005" r="1.7" fill="#fff"/>
<circle cx="258.2" cy="386.20000000000005" r="1.7" fill="#fff"/>
<line x1="245.5" y1="373.90000000000003" x2="234.578" y2="363.32200000000006" stroke="#cc4058" stroke-width="1.5" marker-end="url(#ahr)"/>
<circle cx="245.5" cy="373.90000000000003" r="1.7" fill="#fff"/>
<text x="245" y="410.0" font-size="9.98" fill="#3a3a3c" text-anchor="middle" font-weight="normal" font-family="Liberation Sans" stroke="#3a3a3c" stroke-width="0.08">Axis 2</text>
<rect x="222.2" y="414.7" width="45.3" height="82.3" rx="6.5" fill="#fff" stroke="#333" stroke-width="1.5"/>
<rect x="227.2" y="417.09999999999997" width="36.6" height="36.6" rx="7" fill="#a2a5aa" stroke="#4e4444" stroke-width="1.7"/>
<circle cx="232.79999999999998" cy="423.09999999999997" r="1.7" fill="#fff"/>
<circle cx="258.2" cy="423.09999999999997" r="1.7" fill="#fff"/>
<circle cx="232.79999999999998" cy="447.7" r="1.7" fill="#fff"/>
<circle cx="258.2" cy="447.7" r="1.7" fill="#fff"/>
<line x1="245.5" y1="435.4" x2="256.422" y2="424.822" stroke="#cc4058" stroke-width="1.5" marker-end="url(#ahr)"/>
<circle cx="245.5" cy="435.4" r="1.7" fill="#fff"/>
<rect x="227.2" y="457.8" width="36.6" height="36.6" rx="7" fill="#a2a5aa" stroke="#4e4444" stroke-width="1.7"/>
<circle cx="232.79999999999998" cy="463.8" r="1.7" fill="#fff"/>
<circle cx="258.2" cy="463.8" r="1.7" fill="#fff"/>
<circle cx="232.79999999999998" cy="488.40000000000003" r="1.7" fill="#fff"/>
<circle cx="258.2" cy="488.40000000000003" r="1.7" fill="#fff"/>
<line x1="245.5" y1="476.1" x2="234.578" y2="486.678" stroke="#cc4058" stroke-width="1.5" marker-end="url(#ahr)"/>
<circle cx="245.5" cy="476.1" r="1.7" fill="#fff"/>
<rect x="291.2" y="243" width="33.80000000000001" height="12" rx="1.2" fill="#1570b8"/>
<text x="308.1" y="252.2" font-size="9.98" fill="#cfe8fb" text-anchor="middle" font-weight="normal" font-family="Liberation Sans"  >C2</text>
<rect x="325.35" y="245.5" width="1.8" height="7" fill="#cfcf48"/>
<rect x="327.5" y="243" width="61.30000000000001" height="12" rx="1.2" fill="#4e8441"/>
<text x="358.15" y="252.2" font-size="9.98" fill="#cfe3c4" text-anchor="middle" font-weight="normal" font-family="Liberation Sans"  >C1</text>
<rect x="389.10" y="245.5" width="1.8" height="7" fill="#cfcf48"/>
<rect x="391.2" y="243" width="33.80000000000001" height="12" rx="1.2" fill="#1570b8"/>
<text x="408.1" y="252.2" font-size="9.98" fill="#cfe8fb" text-anchor="middle" font-weight="normal" font-family="Liberation Sans"  >C2</text>
<rect x="425.35" y="245.5" width="1.8" height="7" fill="#cfcf48"/>
<rect x="427.5" y="243" width="60.5" height="12" rx="1.2" fill="#f29440"/>
<text x="457.75" y="252.2" font-size="9.98" fill="#fde2c6" text-anchor="middle" font-weight="normal" font-family="Liberation Sans"  >S1</text>
<rect x="488.70" y="245.5" width="1.8" height="7" fill="#cfcf48"/>
<rect x="491.2" y="243" width="33.30000000000001" height="12" rx="1.2" fill="#1570b8"/>
<text x="507.85" y="252.2" font-size="9.98" fill="#cfe8fb" text-anchor="middle" font-weight="normal" font-family="Liberation Sans"  >C2</text>
<rect x="524.85" y="245.5" width="1.8" height="7" fill="#cfcf48"/>
<rect x="527" y="243" width="60.5" height="12" rx="1.2" fill="#f29440"/>
<text x="557.25" y="252.2" font-size="9.98" fill="#fde2c6" text-anchor="middle" font-weight="normal" font-family="Liberation Sans"  >S1</text>
<rect x="588.10" y="245.5" width="1.8" height="7" fill="#cfcf48"/>
<rect x="590.5" y="243" width="33.299999999999955" height="12" rx="1.2" fill="#1570b8"/>
<text x="607.15" y="252.2" font-size="9.98" fill="#cfe8fb" text-anchor="middle" font-weight="normal" font-family="Liberation Sans"  >C2</text>
<rect x="624.50" y="245.5" width="1.8" height="7" fill="#cfcf48"/>
<rect x="627" y="243" width="60.5" height="12" rx="1.2" fill="#4e8441"/>
<text x="657.25" y="252.2" font-size="9.98" fill="#cfe3c4" text-anchor="middle" font-weight="normal" font-family="Liberation Sans"  >C1</text>
<line x1="291" y1="260.8" x2="682" y2="260.8" stroke="#3a3a3c" stroke-width="1.7"/>
<path d="M680.5,257.6 L688,260.8 L680.5,264 Z" fill="#3a3a3c"/>
<text x="489.8" y="272.5" font-size="10.19" fill="#606163" text-anchor="middle" font-weight="normal" font-family="Liberation Sans" stroke="#606163" stroke-width="0.18">Block</text>
<path d="M332.8,327.7 H328.8 V456 H458.6" fill="none" stroke="#9a9a9a" stroke-width="1"/>
<line x1="328.8" y1="327.7" x2="331.8" y2="327.7" stroke="#9a9a9a" stroke-width="1"/>
<text x="325.3" y="331.6" font-size="10.19" fill="#606163" text-anchor="end" font-weight="normal" font-family="Liberation Sans" stroke="#606163" stroke-width="0.18">1.00</text>
<line x1="328.8" y1="359.775" x2="331.8" y2="359.775" stroke="#9a9a9a" stroke-width="1"/>
<text x="325.3" y="363.67" font-size="10.19" fill="#606163" text-anchor="end" font-weight="normal" font-family="Liberation Sans" stroke="#606163" stroke-width="0.18">0.75</text>
<line x1="328.8" y1="391.85" x2="331.8" y2="391.85" stroke="#9a9a9a" stroke-width="1"/>
<text x="325.3" y="395.75" font-size="10.19" fill="#606163" text-anchor="end" font-weight="normal" font-family="Liberation Sans" stroke="#606163" stroke-width="0.18">0.50</text>
<line x1="328.8" y1="423.925" x2="331.8" y2="423.925" stroke="#9a9a9a" stroke-width="1"/>
<text x="325.3" y="427.82" font-size="10.19" fill="#606163" text-anchor="end" font-weight="normal" font-family="Liberation Sans" stroke="#606163" stroke-width="0.18">0.25</text>
<line x1="328.8" y1="456.0" x2="331.8" y2="456.0" stroke="#9a9a9a" stroke-width="1"/>
<text x="325.3" y="459.9" font-size="10.19" fill="#606163" text-anchor="end" font-weight="normal" font-family="Liberation Sans" stroke="#606163" stroke-width="0.18">0</text>
<line x1="367.74" y1="456" x2="367.74" y2="453.5" stroke="#9a9a9a" stroke-width="1"/>
<line x1="393.70000000000005" y1="456" x2="393.70000000000005" y2="453.5" stroke="#9a9a9a" stroke-width="1"/>
<line x1="419.66" y1="456" x2="419.66" y2="453.5" stroke="#9a9a9a" stroke-width="1"/>
<line x1="458.6" y1="456" x2="458.6" y2="453.5" stroke="#9a9a9a" stroke-width="1"/>
<text x="328.8" y="467.7" font-size="10.19" fill="#606163" text-anchor="middle" font-weight="normal" font-family="Liberation Sans" stroke="#606163" stroke-width="0.18">0</text>
<text x="367.74" y="467.7" font-size="10.19" fill="#606163" text-anchor="middle" font-weight="normal" font-family="Liberation Sans" stroke="#606163" stroke-width="0.18">30</text>
<text x="393.70000000000005" y="467.7" font-size="10.19" fill="#606163" text-anchor="middle" font-weight="normal" font-family="Liberation Sans" stroke="#606163" stroke-width="0.18">50</text>
<text x="419.66" y="467.7" font-size="10.19" fill="#606163" text-anchor="middle" font-weight="normal" font-family="Liberation Sans" stroke="#606163" stroke-width="0.18">70</text>
<text x="458.6" y="467.7" font-size="10.19" fill="#606163" text-anchor="middle" font-weight="normal" font-family="Liberation Sans" stroke="#606163" stroke-width="0.18">100</text>
<text x="394.6" y="484.3" font-size="10.4" fill="#606163" text-anchor="middle" font-weight="normal" font-family="Liberation Sans" stroke="#606163" stroke-width="0.18">Stimulus morph level (%)</text>
<text transform="translate(293.3,391) rotate(-90)" x="0" y="3.65" font-size="10.14" fill="#606163" stroke="#606163" stroke-width="0.15" text-anchor="middle" font-family="Liberation Sans">Proportion of choices</text>
<polyline points="328.80,434.71 329.45,434.69 330.10,434.67 330.75,434.65 331.40,434.63 332.05,434.60 332.69,434.58 333.34,434.55 333.99,434.52 334.64,434.50 335.29,434.47 335.94,434.43 336.59,434.40 337.24,434.37 337.89,434.33 338.54,434.29 339.18,434.25 339.83,434.21 340.48,434.16 341.13,434.12 341.78,434.07 342.43,434.01 343.08,433.96 343.73,433.90 344.38,433.84 345.03,433.78 345.67,433.72 346.32,433.65 346.97,433.57 347.62,433.50 348.27,433.42 348.92,433.33 349.57,433.25 350.22,433.15 350.87,433.06 351.51,432.95 352.16,432.85 352.81,432.74 353.46,432.62 354.11,432.50 354.76,432.37 355.41,432.23 356.06,432.09 356.71,431.94 357.36,431.79 358.00,431.62 358.65,431.45 359.30,431.28 359.95,431.09 360.60,430.89 361.25,430.69 361.90,430.48 362.55,430.25 363.20,430.02 363.85,429.78 364.50,429.52 365.14,429.25 365.79,428.98 366.44,428.68 367.09,428.38 367.74,428.06 368.39,427.73 369.04,427.39 369.69,427.03 370.34,426.66 370.99,426.27 371.63,425.86 372.28,425.44 372.93,425.01 373.58,424.55 374.23,424.08 374.88,423.59 375.53,423.08 376.18,422.55 376.83,422.00 377.48,421.43 378.12,420.85 378.77,420.24 379.42,419.61 380.07,418.96 380.72,418.29 381.37,417.60 382.02,416.89 382.67,416.16 383.32,415.40 383.97,414.62 384.61,413.83 385.26,413.01 385.91,412.17 386.56,411.31 387.21,410.43 387.86,409.54 388.51,408.62 389.16,407.68 389.81,406.73 390.46,405.76 391.10,404.77 391.75,403.76 392.40,402.75 393.05,401.71 393.70,400.67 394.35,399.61 395.00,398.54 395.65,397.47 396.30,396.38 396.95,395.29 397.59,394.20 398.24,393.10 398.89,391.99 399.54,390.89 400.19,389.78 400.84,388.68 401.49,387.58 402.14,386.48 402.79,385.39 403.44,384.31 404.08,383.23 404.73,382.16 405.38,381.11 406.03,380.06 406.68,379.03 407.33,378.01 407.98,377.01 408.63,376.02 409.28,375.05 409.93,374.09 410.57,373.16 411.22,372.24 411.87,371.34 412.52,370.46 413.17,369.60 413.82,368.77 414.47,367.95 415.12,367.15 415.77,366.37 416.42,365.62 417.06,364.89 417.71,364.18 418.36,363.48 419.01,362.81 419.66,362.17 420.31,361.54 420.96,360.93 421.61,360.34 422.26,359.78 422.91,359.23 423.55,358.70 424.20,358.19 424.85,357.70 425.50,357.23 426.15,356.77 426.80,356.33 427.45,355.91 428.10,355.51 428.75,355.12 429.39,354.74 430.04,354.38 430.69,354.04 431.34,353.71 431.99,353.39 432.64,353.09 433.29,352.80 433.94,352.52 434.59,352.26 435.24,352.00 435.89,351.76 436.53,351.52 437.18,351.30 437.83,351.09 438.48,350.88 439.13,350.69 439.78,350.50 440.43,350.32 441.08,350.15 441.73,349.99 442.38,349.83 443.02,349.68 443.67,349.54 444.32,349.41 444.97,349.28 445.62,349.16 446.27,349.04 446.92,348.93 447.57,348.82 448.22,348.72 448.87,348.62 449.51,348.53 450.16,348.44 450.81,348.36 451.46,348.28 452.11,348.20 452.76,348.13 453.41,348.06 454.06,347.99 454.71,347.93 455.36,347.87 456.00,347.81 456.65,347.76 457.30,347.71 457.95,347.66 458.60,347.61" fill="none" stroke="#f3b476" stroke-width="1.4"/>
<line x1="367.74" y1="425.56483552225023" x2="367.74" y2="430.56483552225023" stroke="#f3b476" stroke-width="1"/>
<line x1="393.70000000000005" y1="398.16811445010705" x2="393.70000000000005" y2="403.16811445010705" stroke="#f3b476" stroke-width="1"/>
<line x1="419.66" y1="359.66579849355253" x2="419.66" y2="364.66579849355253" stroke="#f3b476" stroke-width="1"/>
<line x1="458.6" y1="345.11275923718347" x2="458.6" y2="350.11275923718347" stroke="#f3b476" stroke-width="1"/>
<polyline points="328.80,437.61 329.45,437.56 330.10,437.51 330.75,437.45 331.40,437.39 332.05,437.33 332.69,437.26 333.34,437.20 333.99,437.12 334.64,437.05 335.29,436.97 335.94,436.89 336.59,436.80 337.24,436.72 337.89,436.62 338.54,436.52 339.18,436.42 339.83,436.31 340.48,436.20 341.13,436.08 341.78,435.96 342.43,435.83 343.08,435.70 343.73,435.56 344.38,435.41 345.03,435.26 345.67,435.09 346.32,434.93 346.97,434.75 347.62,434.57 348.27,434.38 348.92,434.18 349.57,433.97 350.22,433.75 350.87,433.52 351.51,433.29 352.16,433.04 352.81,432.78 353.46,432.51 354.11,432.23 354.76,431.94 355.41,431.63 356.06,431.32 356.71,430.99 357.36,430.64 358.00,430.29 358.65,429.92 359.30,429.53 359.95,429.13 360.60,428.71 361.25,428.28 361.90,427.83 362.55,427.36 363.20,426.88 363.85,426.38 364.50,425.86 365.14,425.32 365.79,424.77 366.44,424.19 367.09,423.60 367.74,422.98 368.39,422.35 369.04,421.69 369.69,421.02 370.34,420.33 370.99,419.61 371.63,418.87 372.28,418.12 372.93,417.34 373.58,416.54 374.23,415.72 374.88,414.88 375.53,414.02 376.18,413.15 376.83,412.25 377.48,411.33 378.12,410.39 378.77,409.44 379.42,408.47 380.07,407.48 380.72,406.47 381.37,405.45 382.02,404.41 382.67,403.36 383.32,402.30 383.97,401.23 384.61,400.14 385.26,399.05 385.91,397.94 386.56,396.83 387.21,395.72 387.86,394.59 388.51,393.47 389.16,392.34 389.81,391.21 390.46,390.08 391.10,388.95 391.75,387.82 392.40,386.70 393.05,385.58 393.70,384.47 394.35,383.37 395.00,382.27 395.65,381.19 396.30,380.11 396.95,379.05 397.59,378.00 398.24,376.97 398.89,375.95 399.54,374.94 400.19,373.95 400.84,372.98 401.49,372.02 402.14,371.09 402.79,370.17 403.44,369.27 404.08,368.39 404.73,367.53 405.38,366.69 406.03,365.88 406.68,365.08 407.33,364.30 407.98,363.54 408.63,362.81 409.28,362.09 409.93,361.40 410.57,360.72 411.22,360.07 411.87,359.43 412.52,358.82 413.17,358.23 413.82,357.65 414.47,357.10 415.12,356.56 415.77,356.04 416.42,355.54 417.06,355.05 417.71,354.59 418.36,354.14 419.01,353.71 419.66,353.29 420.31,352.89 420.96,352.50 421.61,352.13 422.26,351.77 422.91,351.43 423.55,351.10 424.20,350.78 424.85,350.48 425.50,350.19 426.15,349.91 426.80,349.64 427.45,349.38 428.10,349.13 428.75,348.89 429.39,348.67 430.04,348.45 430.69,348.24 431.34,348.04 431.99,347.85 432.64,347.67 433.29,347.49 433.94,347.32 434.59,347.16 435.24,347.01 435.89,346.86 436.53,346.72 437.18,346.59 437.83,346.46 438.48,346.33 439.13,346.22 439.78,346.10 440.43,346.00 441.08,345.89 441.73,345.80 442.38,345.70 443.02,345.61 443.67,345.53 444.32,345.45 444.97,345.37 445.62,345.29 446.27,345.22 446.92,345.15 447.57,345.09 448.22,345.03 448.87,344.97 449.51,344.91 450.16,344.86 450.81,344.81 451.46,344.76 452.11,344.71 452.76,344.66 453.41,344.62 454.06,344.58 454.71,344.54 455.36,344.51 456.00,344.47 456.65,344.44 457.30,344.40 457.95,344.37 458.60,344.34" fill="none" stroke="#66915c" stroke-width="1.4"/>
<line x1="367.74" y1="420.4821450835248" x2="367.74" y2="425.4821450835248" stroke="#66915c" stroke-width="1"/>
<line x1="393.70000000000005" y1="381.97268819869" x2="393.70000000000005" y2="386.97268819869" stroke="#66915c" stroke-width="1"/>
<line x1="419.66" y1="350.7895193365465" x2="419.66" y2="355.7895193365465" stroke="#66915c" stroke-width="1"/>
<line x1="458.6" y1="341.8435717316387" x2="458.6" y2="346.8435717316387" stroke="#66915c" stroke-width="1"/>
<polyline points="328.80,452.64 329.45,452.64 330.10,452.63 330.75,452.63 331.40,452.63 332.05,452.62 332.69,452.62 333.34,452.62 333.99,452.61 334.64,452.61 335.29,452.60 335.94,452.59 336.59,452.59 337.24,452.58 337.89,452.57 338.54,452.56 339.18,452.55 339.83,452.54 340.48,452.53 341.13,452.51 341.78,452.50 342.43,452.48 343.08,452.47 343.73,452.45 344.38,452.42 345.03,452.40 345.67,452.37 346.32,452.35 346.97,452.31 347.62,452.28 348.27,452.24 348.92,452.20 349.57,452.15 350.22,452.10 350.87,452.05 351.51,451.99 352.16,451.92 352.81,451.85 353.46,451.77 354.11,451.68 354.76,451.58 355.41,451.48 356.06,451.36 356.71,451.23 357.36,451.10 358.00,450.94 358.65,450.77 359.30,450.59 359.95,450.39 360.60,450.17 361.25,449.93 361.90,449.66 362.55,449.37 363.20,449.06 363.85,448.71 364.50,448.34 365.14,447.92 365.79,447.48 366.44,446.99 367.09,446.45 367.74,445.87 368.39,445.24 369.04,444.56 369.69,443.81 370.34,443.01 370.99,442.13 371.63,441.19 372.28,440.17 372.93,439.07 373.58,437.89 374.23,436.62 374.88,435.26 375.53,433.81 376.18,432.25 376.83,430.60 377.48,428.84 378.12,426.98 378.77,425.02 379.42,422.95 380.07,420.78 380.72,418.51 381.37,416.14 382.02,413.69 382.67,411.14 383.32,408.52 383.97,405.83 384.61,403.09 385.26,400.29 385.91,397.45 386.56,394.59 387.21,391.72 387.86,388.85 388.51,385.99 389.16,383.15 389.81,380.36 390.46,377.61 391.10,374.92 391.75,372.30 392.40,369.76 393.05,367.30 393.70,364.93 394.35,362.66 395.00,360.49 395.65,358.42 396.30,356.46 396.95,354.60 397.59,352.84 398.24,351.19 398.89,349.64 399.54,348.18 400.19,346.82 400.84,345.55 401.49,344.37 402.14,343.27 402.79,342.25 403.44,341.31 404.08,340.44 404.73,339.63 405.38,338.89 406.03,338.20 406.68,337.57 407.33,336.99 407.98,336.46 408.63,335.97 409.28,335.52 409.93,335.11 410.57,334.73 411.22,334.38 411.87,334.07 412.52,333.78 413.17,333.52 413.82,333.27 414.47,333.05 415.12,332.85 415.77,332.67 416.42,332.50 417.06,332.35 417.71,332.21 418.36,332.08 419.01,331.97 419.66,331.86 420.31,331.76 420.96,331.68 421.61,331.59 422.26,331.52 422.91,331.46 423.55,331.39 424.20,331.34 424.85,331.29 425.50,331.24 426.15,331.20 426.80,331.16 427.45,331.13 428.10,331.10 428.75,331.07 429.39,331.04 430.04,331.02 430.69,331.00 431.34,330.98 431.99,330.96 432.64,330.94 433.29,330.93 433.94,330.92 434.59,330.90 435.24,330.89 435.89,330.88 436.53,330.87 437.18,330.86 437.83,330.86 438.48,330.85 439.13,330.84 439.78,330.84 440.43,330.83 441.08,330.83 441.73,330.82 442.38,330.82 443.02,330.82 443.67,330.81 444.32,330.81 444.97,330.81 445.62,330.80 446.27,330.80 446.92,330.80 447.57,330.80 448.22,330.80 448.87,330.79 449.51,330.79 450.16,330.79 450.81,330.79 451.46,330.79 452.11,330.79 452.76,330.79 453.41,330.79 454.06,330.79 454.71,330.79 455.36,330.79 456.00,330.78 456.65,330.78 457.30,330.78 457.95,330.78 458.60,330.78" fill="none" stroke="#2e86ba" stroke-width="1.4"/>
<line x1="367.74" y1="443.3734417494669" x2="367.74" y2="448.3734417494669" stroke="#2e86ba" stroke-width="1"/>
<line x1="393.70000000000005" y1="362.43318472882004" x2="393.70000000000005" y2="367.43318472882004" stroke="#2e86ba" stroke-width="1"/>
<line x1="419.66" y1="329.3594521178143" x2="419.66" y2="334.3594521178143" stroke="#2e86ba" stroke-width="1"/>
<line x1="458.6" y1="328.2829940863723" x2="458.6" y2="333.2829940863723" stroke="#2e86ba" stroke-width="1"/>
<line x1="409" y1="398" x2="429.6" y2="398" stroke="#f3b476" stroke-width="1.4"/>
<text x="434" y="401.4" font-size="9.78" fill="#4a4a4c" text-anchor="start" font-weight="normal" font-family="Liberation Sans" stroke="#4a4a4c" stroke-width="0.18">S1</text>
<line x1="409" y1="413" x2="429.6" y2="413" stroke="#66915c" stroke-width="1.4"/>
<text x="434" y="416.4" font-size="9.78" fill="#4a4a4c" text-anchor="start" font-weight="normal" font-family="Liberation Sans" stroke="#4a4a4c" stroke-width="0.18">C1</text>
<line x1="409" y1="428" x2="429.6" y2="428" stroke="#2e86ba" stroke-width="1.4"/>
<text x="434" y="431.4" font-size="9.78" fill="#4a4a4c" text-anchor="start" font-weight="normal" font-family="Liberation Sans" stroke="#4a4a4c" stroke-width="0.18">C2</text>
<path d="M506.5,288 V456.6 H573.5" fill="none" stroke="#9a9a9a" stroke-width="1"/>
<path d="M659,289 V456.6 H591" fill="none" stroke="#9a9a9a" stroke-width="1"/>
<line x1="506.5" y1="322.0" x2="509.0" y2="322.0" stroke="#9a9a9a" stroke-width="1"/>
<line x1="659" y1="322.0" x2="656.5" y2="322.0" stroke="#9a9a9a" stroke-width="1"/>
<text x="502.3" y="325.0" font-size="10.19" fill="#606163" text-anchor="end" font-weight="normal" font-family="Liberation Sans" stroke="#606163" stroke-width="0.18">1.0</text>
<text x="663.5" y="325.0" font-size="10.19" fill="#606163" text-anchor="start" font-weight="normal" font-family="Liberation Sans" stroke="#606163" stroke-width="0.18">1.0</text>
<line x1="506.5" y1="348.92" x2="509.0" y2="348.92" stroke="#9a9a9a" stroke-width="1"/>
<line x1="659" y1="348.92" x2="656.5" y2="348.92" stroke="#9a9a9a" stroke-width="1"/>
<text x="502.3" y="351.92" font-size="10.19" fill="#606163" text-anchor="end" font-weight="normal" font-family="Liberation Sans" stroke="#606163" stroke-width="0.18">0.8</text>
<text x="663.5" y="351.92" font-size="10.19" fill="#606163" text-anchor="start" font-weight="normal" font-family="Liberation Sans" stroke="#606163" stroke-width="0.18">0.8</text>
<line x1="506.5" y1="375.84000000000003" x2="509.0" y2="375.84000000000003" stroke="#9a9a9a" stroke-width="1"/>
<line x1="659" y1="375.84000000000003" x2="656.5" y2="375.84000000000003" stroke="#9a9a9a" stroke-width="1"/>
<text x="502.3" y="378.84" font-size="10.19" fill="#606163" text-anchor="end" font-weight="normal" font-family="Liberation Sans" stroke="#606163" stroke-width="0.18">0.6</text>
<text x="663.5" y="378.84" font-size="10.19" fill="#606163" text-anchor="start" font-weight="normal" font-family="Liberation Sans" stroke="#606163" stroke-width="0.18">0.6</text>
<line x1="506.5" y1="402.76" x2="509.0" y2="402.76" stroke="#9a9a9a" stroke-width="1"/>
<line x1="659" y1="402.76" x2="656.5" y2="402.76" stroke="#9a9a9a" stroke-width="1"/>
<text x="502.3" y="405.76" font-size="10.19" fill="#606163" text-anchor="end" font-weight="normal" font-family="Liberation Sans" stroke="#606163" stroke-width="0.18">0.4</text>
<text x="663.5" y="405.76" font-size="10.19" fill="#606163" text-anchor="start" font-weight="normal" font-family="Liberation Sans" stroke="#606163" stroke-width="0.18">0.4</text>
<line x1="506.5" y1="429.68" x2="509.0" y2="429.68" stroke="#9a9a9a" stroke-width="1"/>
<line x1="659" y1="429.68" x2="656.5" y2="429.68" stroke="#9a9a9a" stroke-width="1"/>
<text x="502.3" y="432.68" font-size="10.19" fill="#606163" text-anchor="end" font-weight="normal" font-family="Liberation Sans" stroke="#606163" stroke-width="0.18">0.2</text>
<text x="663.5" y="432.68" font-size="10.19" fill="#606163" text-anchor="start" font-weight="normal" font-family="Liberation Sans" stroke="#606163" stroke-width="0.18">0.2</text>
<line x1="506.5" y1="456.6" x2="509.0" y2="456.6" stroke="#9a9a9a" stroke-width="1"/>
<line x1="659" y1="456.6" x2="656.5" y2="456.6" stroke="#9a9a9a" stroke-width="1"/>
<text x="502.3" y="459.6" font-size="10.19" fill="#606163" text-anchor="end" font-weight="normal" font-family="Liberation Sans" stroke="#606163" stroke-width="0.18">0</text>
<text x="663.5" y="459.6" font-size="10.19" fill="#606163" text-anchor="start" font-weight="normal" font-family="Liberation Sans" stroke="#606163" stroke-width="0.18">0</text>
<line x1="527.8333333333334" y1="456.6" x2="527.8333333333334" y2="454.1" stroke="#9a9a9a" stroke-width="1"/>
<line x1="635.5" y1="456.6" x2="635.5" y2="454.1" stroke="#9a9a9a" stroke-width="1"/>
<line x1="549.1666666666666" y1="456.6" x2="549.1666666666666" y2="454.1" stroke="#9a9a9a" stroke-width="1"/>
<line x1="612.0" y1="456.6" x2="612.0" y2="454.1" stroke="#9a9a9a" stroke-width="1"/>
<text x="506" y="470.1" font-size="10.19" fill="#606163" text-anchor="middle" font-weight="normal" font-family="Liberation Sans" stroke="#606163" stroke-width="0.18">0</text>
<text x="528.6" y="470.1" font-size="10.19" fill="#606163" text-anchor="middle" font-weight="normal" font-family="Liberation Sans" stroke="#606163" stroke-width="0.18">20</text>
<text x="551.4" y="470.1" font-size="10.19" fill="#606163" text-anchor="middle" font-weight="normal" font-family="Liberation Sans" stroke="#606163" stroke-width="0.18">40</text>
<text x="571" y="470.1" font-size="10.19" fill="#606163" text-anchor="middle" font-weight="normal" font-family="Liberation Sans" stroke="#606163" stroke-width="0.18">60</text>
<text x="588.6" y="470.1" font-size="10.19" fill="#606163" text-anchor="middle" font-weight="normal" font-family="Liberation Sans" stroke="#606163" stroke-width="0.18">60</text>
<text x="613.6" y="470.1" font-size="10.19" fill="#606163" text-anchor="middle" font-weight="normal" font-family="Liberation Sans" stroke="#606163" stroke-width="0.18">40</text>
<text x="636.4" y="470.1" font-size="10.19" fill="#606163" text-anchor="middle" font-weight="normal" font-family="Liberation Sans" stroke="#606163" stroke-width="0.18">20</text>
<text x="658.8" y="470.1" font-size="10.19" fill="#606163" text-anchor="middle" font-weight="normal" font-family="Liberation Sans" stroke="#606163" stroke-width="0.18">0</text>
<path d="M571.8000000000001,461.20000000000005 L576.2,452.20000000000005 M574.4000000000001,461.20000000000005 L578.8000000000001,452.20000000000005" stroke="#707070" stroke-width="1" fill="none"/>
<path d="M585.1,461.20000000000005 L589.5,452.20000000000005 M587.7,461.20000000000005 L592.1,452.20000000000005" stroke="#707070" stroke-width="1" fill="none"/>
<text x="540.4" y="485.5" font-size="10.19" fill="#606163" text-anchor="middle" font-weight="normal" font-family="Liberation Sans" stroke="#606163" stroke-width="0.18">Trials</text>
<text x="540" y="497.0" font-size="10.19" fill="#606163" text-anchor="middle" font-weight="normal" font-family="Liberation Sans" stroke="#606163" stroke-width="0.18">from switch</text>
<text x="625" y="484.0" font-size="10.19" fill="#606163" text-anchor="middle" font-weight="normal" font-family="Liberation Sans" stroke="#606163" stroke-width="0.18">Trials</text>
<text x="625" y="497.0" font-size="10.19" fill="#606163" text-anchor="middle" font-weight="normal" font-family="Liberation Sans" stroke="#606163" stroke-width="0.18">to switch</text>
<text transform="translate(476.4,372.1) rotate(-90)" x="0" y="3.57" font-size="9.93" fill="#606163" stroke="#606163" stroke-width="0.15" text-anchor="middle" font-family="Liberation Sans">Performance</text>
<text transform="translate(689.6,373.2) rotate(-90)" x="0" y="3.57" font-size="9.93" fill="#606163" stroke="#606163" stroke-width="0.15" text-anchor="middle" font-family="Liberation Sans">Performance</text>
<line x1="507.5" y1="294.5" x2="573.8" y2="294.5" stroke="#769c6e" stroke-width="1.3"/>
<line x1="507.5" y1="301.5" x2="545.7" y2="301.5" stroke="#68a8d8" stroke-width="1.3"/>
<line x1="510.5" y1="308.3" x2="573.8" y2="308.3" stroke="#f4c096" stroke-width="1.3"/>
<line x1="592.6" y1="295.0" x2="659" y2="295.0" stroke="#769c6e" stroke-width="1.3"/>
<line x1="621" y1="301.7" x2="659" y2="301.7" stroke="#68a8d8" stroke-width="1.3"/>
<line x1="592.6" y1="308.7" x2="659" y2="308.7" stroke="#f4c096" stroke-width="1.3"/>
<line x1="507.5" y1="423.8" x2="523" y2="423.8" stroke="#aaa" stroke-width="1.2"/>
<line x1="541" y1="423.8" x2="557" y2="423.8" stroke="#aaa" stroke-width="1.2"/>
<line x1="591.8" y1="423.8" x2="608.4" y2="423.8" stroke="#aaa" stroke-width="1.2"/>
<line x1="626.4" y1="423.8" x2="642.5" y2="423.8" stroke="#aaa" stroke-width="1.2"/>
<polyline points="506.90,392.33 507.60,391.53 508.30,389.99 509.00,387.90 509.70,386.05 510.52,384.25 511.34,383.23 512.16,382.18 512.98,380.68 513.80,378.98 514.50,377.39 515.20,376.38 515.90,375.52 516.60,374.68 517.30,373.65 518.00,372.50 518.82,371.73 519.64,371.32 520.46,371.17 521.28,371.01 522.10,370.82 522.80,370.48 523.50,370.07 524.20,369.85 524.90,369.36 525.60,369.32 526.30,369.17 527.00,369.44 527.70,369.21 528.47,368.85 529.23,368.48 530.00,367.97 530.77,368.03 531.53,367.74 532.30,367.62 533.07,367.28 533.83,367.25 534.60,367.27 535.37,366.97 536.13,366.60 536.90,366.22 537.67,365.99 538.43,365.94 539.20,365.59 539.97,365.79 540.73,365.68 541.50,365.47 542.27,364.80 543.03,364.33 543.80,364.14 544.57,363.76 545.33,363.75 546.10,363.81 546.87,363.71 547.63,363.18 548.40,362.35 549.10,361.88 549.80,361.58 550.50,361.47 551.20,361.68 551.90,361.35 552.60,360.99 553.30,360.84 554.00,360.84 554.70,360.70 555.40,360.33 556.17,360.00 556.93,360.29 557.70,360.62 558.47,361.19 559.23,361.36 560.00,360.99 560.77,360.76 561.53,360.51 562.30,360.86 563.07,360.98 563.83,361.35 564.60,361.08 565.37,360.90 566.13,360.92 566.90,361.31 567.67,361.69 568.43,361.69 569.20,361.57 570.04,361.46 570.88,361.05 571.72,360.81 572.56,360.52 573.40,360.62" fill="none" stroke="#f7cfa6" stroke-width="4.2" stroke-linejoin="round" stroke-linecap="round" stroke-opacity="1"/>
<polyline points="506.90,392.33 507.60,391.53 508.30,389.99 509.00,387.90 509.70,386.05 510.52,384.25 511.34,383.23 512.16,382.18 512.98,380.68 513.80,378.98 514.50,377.39 515.20,376.38 515.90,375.52 516.60,374.68 517.30,373.65 518.00,372.50 518.82,371.73 519.64,371.32 520.46,371.17 521.28,371.01 522.10,370.82 522.80,370.48 523.50,370.07 524.20,369.85 524.90,369.36 525.60,369.32 526.30,369.17 527.00,369.44 527.70,369.21 528.47,368.85 529.23,368.48 530.00,367.97 530.77,368.03 531.53,367.74 532.30,367.62 533.07,367.28 533.83,367.25 534.60,367.27 535.37,366.97 536.13,366.60 536.90,366.22 537.67,365.99 538.43,365.94 539.20,365.59 539.97,365.79 540.73,365.68 541.50,365.47 542.27,364.80 543.03,364.33 543.80,364.14 544.57,363.76 545.33,363.75 546.10,363.81 546.87,363.71 547.63,363.18 548.40,362.35 549.10,361.88 549.80,361.58 550.50,361.47 551.20,361.68 551.90,361.35 552.60,360.99 553.30,360.84 554.00,360.84 554.70,360.70 555.40,360.33 556.17,360.00 556.93,360.29 557.70,360.62 558.47,361.19 559.23,361.36 560.00,360.99 560.77,360.76 561.53,360.51 562.30,360.86 563.07,360.98 563.83,361.35 564.60,361.08 565.37,360.90 566.13,360.92 566.90,361.31 567.67,361.69 568.43,361.69 569.20,361.57 570.04,361.46 570.88,361.05 571.72,360.81 572.56,360.52 573.40,360.62" fill="none" stroke="#f2a866" stroke-width="1.6" stroke-linejoin="round" stroke-linecap="round" stroke-opacity="1"/>
<polyline points="506.90,369.65 507.60,368.53 508.30,366.42 509.00,365.51 509.70,364.98 510.40,364.63 511.10,364.59 512.00,364.70 512.90,365.55 513.80,365.94 514.50,366.62 515.20,367.28 515.90,368.41 516.60,369.09 517.30,369.64 518.00,369.88 518.82,370.44 519.64,370.41 520.46,370.03 521.28,369.81 522.10,369.27 522.80,369.35 523.50,368.77 524.20,368.65 524.90,368.03 525.60,367.87 526.30,368.10 527.00,367.96 527.70,367.97 528.47,367.74 529.23,367.76 530.00,367.64 530.77,367.19 531.53,366.90 532.30,366.60 533.07,366.87 533.83,366.99 534.60,366.89 535.37,366.61 536.13,366.33 536.90,366.04 537.67,365.87 538.43,365.73 539.20,365.41 539.97,364.99 540.73,364.60 541.50,364.66 542.27,364.40 543.03,363.88 543.80,363.57 544.57,362.82 545.33,362.52 546.10,362.01 546.87,361.65 547.63,361.32 548.40,360.49 549.10,360.38 549.80,360.11 550.50,359.99 551.20,359.68 551.90,358.97 552.60,358.61 553.30,358.00 554.00,357.80 554.79,357.38 555.57,357.33 556.36,357.34 557.14,357.16 557.93,356.85 558.71,356.12 559.50,356.07 560.27,355.90 561.03,356.32 561.80,356.24 562.57,355.88 563.33,355.37 564.10,355.14 564.87,354.84 565.63,354.74 566.40,354.30 567.10,354.23 567.80,353.87 568.50,354.11 569.20,353.99 569.90,353.99 570.60,353.64 571.30,353.97 572.00,353.75 572.70,353.66 573.40,353.24" fill="none" stroke="#b3cfa4" stroke-width="4.2" stroke-linejoin="round" stroke-linecap="round" stroke-opacity="1"/>
<polyline points="506.90,369.65 507.60,368.53 508.30,366.42 509.00,365.51 509.70,364.98 510.40,364.63 511.10,364.59 512.00,364.70 512.90,365.55 513.80,365.94 514.50,366.62 515.20,367.28 515.90,368.41 516.60,369.09 517.30,369.64 518.00,369.88 518.82,370.44 519.64,370.41 520.46,370.03 521.28,369.81 522.10,369.27 522.80,369.35 523.50,368.77 524.20,368.65 524.90,368.03 525.60,367.87 526.30,368.10 527.00,367.96 527.70,367.97 528.47,367.74 529.23,367.76 530.00,367.64 530.77,367.19 531.53,366.90 532.30,366.60 533.07,366.87 533.83,366.99 534.60,366.89 535.37,366.61 536.13,366.33 536.90,366.04 537.67,365.87 538.43,365.73 539.20,365.41 539.97,364.99 540.73,364.60 541.50,364.66 542.27,364.40 543.03,363.88 543.80,363.57 544.57,362.82 545.33,362.52 546.10,362.01 546.87,361.65 547.63,361.32 548.40,360.49 549.10,360.38 549.80,360.11 550.50,359.99 551.20,359.68 551.90,358.97 552.60,358.61 553.30,358.00 554.00,357.80 554.79,357.38 555.57,357.33 556.36,357.34 557.14,357.16 557.93,356.85 558.71,356.12 559.50,356.07 560.27,355.90 561.03,356.32 561.80,356.24 562.57,355.88 563.33,355.37 564.10,355.14 564.87,354.84 565.63,354.74 566.40,354.30 567.10,354.23 567.80,353.87 568.50,354.11 569.20,353.99 569.90,353.99 570.60,353.64 571.30,353.97 572.00,353.75 572.70,353.66 573.40,353.24" fill="none" stroke="#5a8c4c" stroke-width="1.6" stroke-linejoin="round" stroke-linecap="round" stroke-opacity="1"/>
<polyline points="592.50,354.02 593.24,353.92 593.98,353.97 594.72,354.05 595.45,354.14 596.19,354.07 596.93,354.22 597.67,354.10 598.41,353.96 599.15,353.68 599.88,353.65 600.62,353.64 601.36,353.55 602.10,353.49 602.87,353.29 603.63,353.46 604.40,353.46 605.17,353.59 605.93,353.50 606.70,353.18 607.47,352.92 608.23,352.83 609.00,353.11 609.71,352.91 610.42,352.56 611.14,352.44 611.85,352.49 612.56,352.64 613.28,352.53 613.99,352.94 614.70,353.18 615.47,353.45 616.23,352.88 617.00,352.54 617.77,352.12 618.53,351.81 619.30,351.72 620.15,351.84 621.00,351.95 621.85,352.07 622.70,351.73 623.55,351.73 624.40,351.50 625.25,351.48 626.10,351.19 626.87,350.89 627.63,350.86 628.40,351.09 629.17,351.09 629.93,351.12 630.70,351.38 631.47,351.27 632.23,351.29 633.00,351.04 633.77,350.94 634.53,350.72 635.30,350.73 636.07,350.92 636.83,350.71 637.60,350.83 638.37,350.91 639.13,351.33 639.90,350.93 640.65,350.85 641.40,350.69 642.15,351.38 642.90,351.71 643.65,352.10 644.40,352.07 645.17,352.40 645.93,352.58 646.70,352.31 647.47,351.72 648.23,351.59 649.00,351.57 649.77,351.67 650.53,351.03 651.30,350.55 652.07,350.35 652.83,350.32 653.60,350.13 654.33,350.05 655.06,349.95 655.79,350.12 656.51,349.45 657.24,349.36 657.97,348.75 658.70,348.85" fill="none" stroke="#f7cfa6" stroke-width="4.2" stroke-linejoin="round" stroke-linecap="round" stroke-opacity="1"/>
<polyline points="592.50,354.02 593.24,353.92 593.98,353.97 594.72,354.05 595.45,354.14 596.19,354.07 596.93,354.22 597.67,354.10 598.41,353.96 599.15,353.68 599.88,353.65 600.62,353.64 601.36,353.55 602.10,353.49 602.87,353.29 603.63,353.46 604.40,353.46 605.17,353.59 605.93,353.50 606.70,353.18 607.47,352.92 608.23,352.83 609.00,353.11 609.71,352.91 610.42,352.56 611.14,352.44 611.85,352.49 612.56,352.64 613.28,352.53 613.99,352.94 614.70,353.18 615.47,353.45 616.23,352.88 617.00,352.54 617.77,352.12 618.53,351.81 619.30,351.72 620.15,351.84 621.00,351.95 621.85,352.07 622.70,351.73 623.55,351.73 624.40,351.50 625.25,351.48 626.10,351.19 626.87,350.89 627.63,350.86 628.40,351.09 629.17,351.09 629.93,351.12 630.70,351.38 631.47,351.27 632.23,351.29 633.00,351.04 633.77,350.94 634.53,350.72 635.30,350.73 636.07,350.92 636.83,350.71 637.60,350.83 638.37,350.91 639.13,351.33 639.90,350.93 640.65,350.85 641.40,350.69 642.15,351.38 642.90,351.71 643.65,352.10 644.40,352.07 645.17,352.40 645.93,352.58 646.70,352.31 647.47,351.72 648.23,351.59 649.00,351.57 649.77,351.67 650.53,351.03 651.30,350.55 652.07,350.35 652.83,350.32 653.60,350.13 654.33,350.05 655.06,349.95 655.79,350.12 656.51,349.45 657.24,349.36 657.97,348.75 658.70,348.85" fill="none" stroke="#f2a866" stroke-width="1.6" stroke-linejoin="round" stroke-linecap="round" stroke-opacity="1"/>
<polyline points="592.50,352.30 593.24,352.39 593.98,352.43 594.72,352.70 595.45,352.98 596.19,352.99 596.93,353.04 597.67,352.97 598.41,353.16 599.15,352.77 599.88,352.28 600.62,351.80 601.36,351.63 602.10,351.51 602.87,351.59 603.63,351.81 604.40,351.99 605.17,351.76 605.93,351.47 606.70,351.30 607.47,350.93 608.23,350.78 609.00,350.63 609.71,350.73 610.42,350.45 611.14,349.90 611.85,349.25 612.56,348.95 613.28,348.54 613.99,348.55 614.70,348.44 615.47,348.39 616.23,348.21 617.00,348.23 617.77,348.44 618.53,348.35 619.30,348.11 620.15,348.16 621.00,349.08 621.85,349.97 622.70,350.15 623.55,349.95 624.40,349.54 625.25,349.31 626.10,348.84 626.87,348.66 627.63,348.72 628.40,348.87 629.17,349.43 629.93,350.04 630.70,350.49 631.47,350.49 632.23,350.24 633.00,350.29 633.77,350.10 634.53,349.85 635.30,349.38 636.07,348.95 636.83,348.82 637.60,348.85 638.37,348.68 639.13,348.62 639.90,348.47 640.65,349.15 641.40,349.68 642.15,350.42 642.90,350.81 643.65,351.67 644.40,351.93 645.17,352.11 645.93,351.61 646.70,351.39 647.47,350.90 648.23,350.36 649.00,350.05 649.77,349.64 650.53,349.43 651.30,349.43 652.07,349.22 652.83,349.27 653.60,349.02 654.33,348.99 655.06,348.67 655.79,348.32 656.51,348.08 657.24,348.08 657.97,347.61 658.70,347.43" fill="none" stroke="#b3cfa4" stroke-width="4.2" stroke-linejoin="round" stroke-linecap="round" stroke-opacity="1"/>
<polyline points="592.50,352.30 593.24,352.39 593.98,352.43 594.72,352.70 595.45,352.98 596.19,352.99 596.93,353.04 597.67,352.97 598.41,353.16 599.15,352.77 599.88,352.28 600.62,351.80 601.36,351.63 602.10,351.51 602.87,351.59 603.63,351.81 604.40,351.99 605.17,351.76 605.93,351.47 606.70,351.30 607.47,350.93 608.23,350.78 609.00,350.63 609.71,350.73 610.42,350.45 611.14,349.90 611.85,349.25 612.56,348.95 613.28,348.54 613.99,348.55 614.70,348.44 615.47,348.39 616.23,348.21 617.00,348.23 617.77,348.44 618.53,348.35 619.30,348.11 620.15,348.16 621.00,349.08 621.85,349.97 622.70,350.15 623.55,349.95 624.40,349.54 625.25,349.31 626.10,348.84 626.87,348.66 627.63,348.72 628.40,348.87 629.17,349.43 629.93,350.04 630.70,350.49 631.47,350.49 632.23,350.24 633.00,350.29 633.77,350.10 634.53,349.85 635.30,349.38 636.07,348.95 636.83,348.82 637.60,348.85 638.37,348.68 639.13,348.62 639.90,348.47 640.65,349.15 641.40,349.68 642.15,350.42 642.90,350.81 643.65,351.67 644.40,351.93 645.17,352.11 645.93,351.61 646.70,351.39 647.47,350.90 648.23,350.36 649.00,350.05 649.77,349.64 650.53,349.43 651.30,349.43 652.07,349.22 652.83,349.27 653.60,349.02 654.33,348.99 655.06,348.67 655.79,348.32 656.51,348.08 657.24,348.08 657.97,347.61 658.70,347.43" fill="none" stroke="#5a8c4c" stroke-width="1.6" stroke-linejoin="round" stroke-linecap="round" stroke-opacity="1"/>
<polyline points="506.90,341.22 507.74,340.93 508.58,340.64 509.42,340.06 510.26,339.53 511.10,339.05 511.96,338.61 512.83,338.23 513.69,337.89 514.55,337.55 515.41,337.21 516.27,336.88 517.14,336.57 518.00,336.30 518.81,336.06 519.62,335.85 520.42,335.68 521.23,335.50 522.04,335.32 522.85,335.15 523.66,334.98 524.47,334.80 525.28,334.62 526.08,334.45 526.89,334.30 527.70,334.18 528.53,334.09 529.36,334.02 530.19,333.98 531.02,333.94 531.85,333.90 532.68,333.86 533.51,333.82 534.34,333.78 535.17,333.76 536.00,333.75 536.88,333.76 537.76,333.78 538.64,333.82 539.52,333.86 540.40,333.90 541.28,333.94 542.16,333.98 543.04,334.02 543.92,334.04 544.80,334.06" fill="none" stroke="#9fcbe8" stroke-width="4.2" stroke-linejoin="round" stroke-linecap="round" stroke-opacity="1"/>
<polyline points="506.90,341.22 507.74,340.93 508.58,340.64 509.42,340.06 510.26,339.53 511.10,339.05 511.96,338.61 512.83,338.23 513.69,337.89 514.55,337.55 515.41,337.21 516.27,336.88 517.14,336.57 518.00,336.30 518.81,336.06 519.62,335.85 520.42,335.68 521.23,335.50 522.04,335.32 522.85,335.15 523.66,334.98 524.47,334.80 525.28,334.62 526.08,334.45 526.89,334.30 527.70,334.18 528.53,334.09 529.36,334.02 530.19,333.98 531.02,333.94 531.85,333.90 532.68,333.86 533.51,333.82 534.34,333.78 535.17,333.76 536.00,333.75 536.88,333.76 537.76,333.78 538.64,333.82 539.52,333.86 540.40,333.90 541.28,333.94 542.16,333.98 543.04,334.02 543.92,334.04 544.80,334.06" fill="none" stroke="#2f84c2" stroke-width="2.0" stroke-linejoin="round" stroke-linecap="round" stroke-opacity="1"/>
<polyline points="620.40,336.75 621.27,336.40 622.15,335.70 623.02,335.00 623.90,334.40 624.80,333.90 625.70,333.50 626.60,333.10 627.50,332.70 628.40,332.41 629.21,332.23 630.03,332.16 630.84,332.09 631.66,332.01 632.47,331.94 633.29,331.87 634.10,331.80 634.93,331.74 635.76,331.69 636.59,331.63 637.41,331.57 638.24,331.51 639.07,331.46 639.90,331.44 640.75,331.47 641.60,331.55 642.45,331.62 643.30,331.70 644.15,331.78 645.00,331.85 645.85,331.93 646.70,332.01 647.56,332.10 648.43,332.20 649.29,332.30 650.15,332.40 651.01,332.50 651.88,332.60 652.74,332.70 653.60,332.78 654.50,332.85 655.40,332.90 656.30,332.95 657.20,333.00 658.10,333.05 659.00,333.08" fill="none" stroke="#9fcbe8" stroke-width="4.2" stroke-linejoin="round" stroke-linecap="round" stroke-opacity="1"/>
<polyline points="620.40,336.75 621.27,336.40 622.15,335.70 623.02,335.00 623.90,334.40 624.80,333.90 625.70,333.50 626.60,333.10 627.50,332.70 628.40,332.41 629.21,332.23 630.03,332.16 630.84,332.09 631.66,332.01 632.47,331.94 633.29,331.87 634.10,331.80 634.93,331.74 635.76,331.69 636.59,331.63 637.41,331.57 638.24,331.51 639.07,331.46 639.90,331.44 640.75,331.47 641.60,331.55 642.45,331.62 643.30,331.70 644.15,331.78 645.00,331.85 645.85,331.93 646.70,332.01 647.56,332.10 648.43,332.20 649.29,332.30 650.15,332.40 651.01,332.50 651.88,332.60 652.74,332.70 653.60,332.78 654.50,332.85 655.40,332.90 656.30,332.95 657.20,333.00 658.10,333.05 659.00,333.08" fill="none" stroke="#2f84c2" stroke-width="2.0" stroke-linejoin="round" stroke-linecap="round" stroke-opacity="1"/>
<path d="M543.8,339.3 L547.3,330.3 M546.5999999999999,339.3 L550.0999999999999,330.3" stroke="#231f20" stroke-width="1.1" fill="none"/>
<path d="M615.3,340.5 L618.8,331.5 M618.0999999999999,340.5 L621.5999999999999,331.5" stroke="#231f20" stroke-width="1.1" fill="none"/>
<line x1="567.5" y1="373.6" x2="590" y2="373.6" stroke="#f3b07a" stroke-width="1.6"/>
<text x="596" y="377.0" font-size="9.78" fill="#4a4a4c" text-anchor="start" font-weight="normal" font-family="Liberation Sans" stroke="#4a4a4c" stroke-width="0.18">S1</text>
<line x1="567.5" y1="388.8" x2="590" y2="388.8" stroke="#5b8d52" stroke-width="1.6"/>
<text x="596" y="392.2" font-size="9.78" fill="#4a4a4c" text-anchor="start" font-weight="normal" font-family="Liberation Sans" stroke="#4a4a4c" stroke-width="0.18">C1</text>
<line x1="567.5" y1="404.0" x2="590" y2="404.0" stroke="#2b86bf" stroke-width="1.6"/>
<text x="596" y="407.4" font-size="9.78" fill="#4a4a4c" text-anchor="start" font-weight="normal" font-family="Liberation Sans" stroke="#4a4a4c" stroke-width="0.18">C2</text>
</svg>
</body></html>
